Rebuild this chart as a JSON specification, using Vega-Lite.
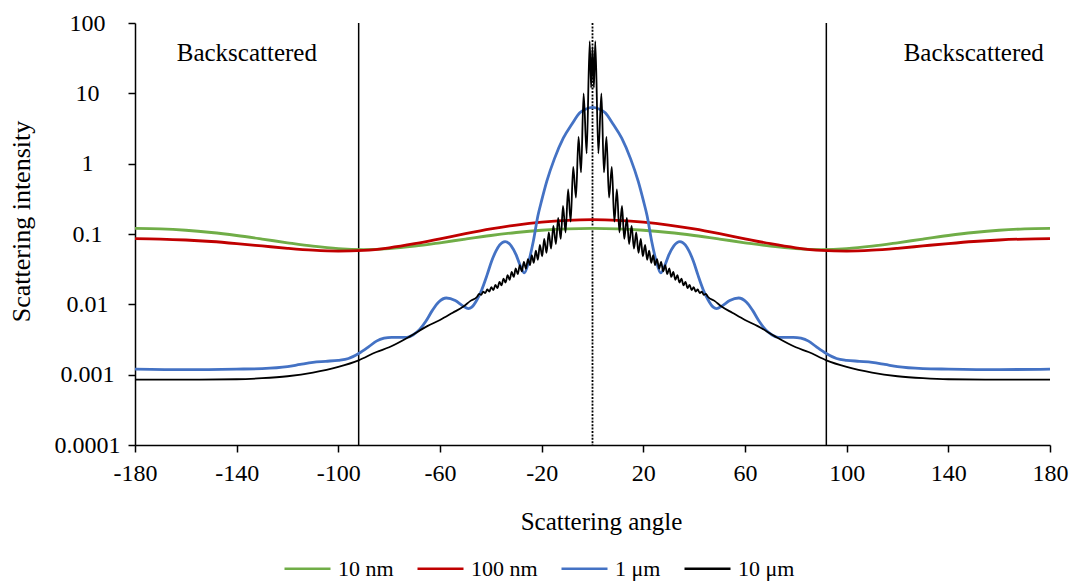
{
  "$schema": "https://vega.github.io/schema/vega-lite/v6.json",
  "width": 915,
  "height": 422,
  "autosize": {"type": "none"},
  "padding": {"left": 135, "top": 23, "right": 26, "bottom": 136},
  "background": "white",
  "config": {"view": {"stroke": null}, "font": "Liberation Serif"},
  "datasets": {
    "curves": [
      {"angle": -180, "intensity": 0.12, "series": "10 nm"},
      {"angle": -170, "intensity": 0.1182, "series": "10 nm"},
      {"angle": -160, "intensity": 0.113, "series": "10 nm"},
      {"angle": -150, "intensity": 0.105, "series": "10 nm"},
      {"angle": -140, "intensity": 0.0952, "series": "10 nm"},
      {"angle": -130, "intensity": 0.0848, "series": "10 nm"},
      {"angle": -120, "intensity": 0.075, "series": "10 nm"},
      {"angle": -110, "intensity": 0.067, "series": "10 nm"},
      {"angle": -100, "intensity": 0.0618, "series": "10 nm"},
      {"angle": -90, "intensity": 0.06, "series": "10 nm"},
      {"angle": -80, "intensity": 0.0618, "series": "10 nm"},
      {"angle": -70, "intensity": 0.067, "series": "10 nm"},
      {"angle": -60, "intensity": 0.075, "series": "10 nm"},
      {"angle": -50, "intensity": 0.0848, "series": "10 nm"},
      {"angle": -40, "intensity": 0.0952, "series": "10 nm"},
      {"angle": -30, "intensity": 0.105, "series": "10 nm"},
      {"angle": -20, "intensity": 0.113, "series": "10 nm"},
      {"angle": -10, "intensity": 0.1182, "series": "10 nm"},
      {"angle": 0, "intensity": 0.12, "series": "10 nm"},
      {"angle": 10, "intensity": 0.1182, "series": "10 nm"},
      {"angle": 20, "intensity": 0.113, "series": "10 nm"},
      {"angle": 30, "intensity": 0.105, "series": "10 nm"},
      {"angle": 40, "intensity": 0.0952, "series": "10 nm"},
      {"angle": 50, "intensity": 0.0848, "series": "10 nm"},
      {"angle": 60, "intensity": 0.075, "series": "10 nm"},
      {"angle": 70, "intensity": 0.067, "series": "10 nm"},
      {"angle": 80, "intensity": 0.0618, "series": "10 nm"},
      {"angle": 90, "intensity": 0.06, "series": "10 nm"},
      {"angle": 100, "intensity": 0.0618, "series": "10 nm"},
      {"angle": 110, "intensity": 0.067, "series": "10 nm"},
      {"angle": 120, "intensity": 0.075, "series": "10 nm"},
      {"angle": 130, "intensity": 0.0848, "series": "10 nm"},
      {"angle": 140, "intensity": 0.0952, "series": "10 nm"},
      {"angle": 150, "intensity": 0.105, "series": "10 nm"},
      {"angle": 160, "intensity": 0.113, "series": "10 nm"},
      {"angle": 170, "intensity": 0.1182, "series": "10 nm"},
      {"angle": 180, "intensity": 0.12, "series": "10 nm"},

      {"angle": -180, "intensity": 0.0857, "series": "100 nm"},
      {"angle": -170, "intensity": 0.0848, "series": "100 nm"},
      {"angle": -160, "intensity": 0.0822, "series": "100 nm"},
      {"angle": -150, "intensity": 0.0782, "series": "100 nm"},
      {"angle": -140, "intensity": 0.0731, "series": "100 nm"},
      {"angle": -130, "intensity": 0.0677, "series": "100 nm"},
      {"angle": -120, "intensity": 0.0626, "series": "100 nm"},
      {"angle": -110, "intensity": 0.0588, "series": "100 nm"},
      {"angle": -100, "intensity": 0.0571, "series": "100 nm"},
      {"angle": -90, "intensity": 0.0585, "series": "100 nm"},
      {"angle": -80, "intensity": 0.0637, "series": "100 nm"},
      {"angle": -70, "intensity": 0.0727, "series": "100 nm"},
      {"angle": -60, "intensity": 0.0855, "series": "100 nm"},
      {"angle": -50, "intensity": 0.1011, "series": "100 nm"},
      {"angle": -40, "intensity": 0.118, "series": "100 nm"},
      {"angle": -30, "intensity": 0.1342, "series": "100 nm"},
      {"angle": -20, "intensity": 0.1477, "series": "100 nm"},
      {"angle": -10, "intensity": 0.1567, "series": "100 nm"},
      {"angle": 0, "intensity": 0.16, "series": "100 nm"},
      {"angle": 10, "intensity": 0.1567, "series": "100 nm"},
      {"angle": 20, "intensity": 0.1477, "series": "100 nm"},
      {"angle": 30, "intensity": 0.1342, "series": "100 nm"},
      {"angle": 40, "intensity": 0.118, "series": "100 nm"},
      {"angle": 50, "intensity": 0.1011, "series": "100 nm"},
      {"angle": 60, "intensity": 0.0855, "series": "100 nm"},
      {"angle": 70, "intensity": 0.0727, "series": "100 nm"},
      {"angle": 80, "intensity": 0.0637, "series": "100 nm"},
      {"angle": 90, "intensity": 0.0585, "series": "100 nm"},
      {"angle": 100, "intensity": 0.0571, "series": "100 nm"},
      {"angle": 110, "intensity": 0.0588, "series": "100 nm"},
      {"angle": 120, "intensity": 0.0626, "series": "100 nm"},
      {"angle": 130, "intensity": 0.0677, "series": "100 nm"},
      {"angle": 140, "intensity": 0.0731, "series": "100 nm"},
      {"angle": 150, "intensity": 0.0782, "series": "100 nm"},
      {"angle": 160, "intensity": 0.0822, "series": "100 nm"},
      {"angle": 170, "intensity": 0.0848, "series": "100 nm"},
      {"angle": 180, "intensity": 0.0857, "series": "100 nm"},

      {"angle": -180, "intensity": 0.0012, "series": "1 μm"},
      {"angle": -160, "intensity": 0.00118, "series": "1 μm"},
      {"angle": -140, "intensity": 0.0012, "series": "1 μm"},
      {"angle": -130, "intensity": 0.00122, "series": "1 μm"},
      {"angle": -120, "intensity": 0.0013, "series": "1 μm"},
      {"angle": -115, "intensity": 0.0014, "series": "1 μm"},
      {"angle": -110, "intensity": 0.0015, "series": "1 μm"},
      {"angle": -105, "intensity": 0.00155, "series": "1 μm"},
      {"angle": -100, "intensity": 0.0016, "series": "1 μm"},
      {"angle": -96, "intensity": 0.0017, "series": "1 μm"},
      {"angle": -92, "intensity": 0.002, "series": "1 μm"},
      {"angle": -88, "intensity": 0.0025, "series": "1 μm"},
      {"angle": -85, "intensity": 0.003, "series": "1 μm"},
      {"angle": -82, "intensity": 0.0033, "series": "1 μm"},
      {"angle": -79, "intensity": 0.0034, "series": "1 μm"},
      {"angle": -76, "intensity": 0.0034, "series": "1 μm"},
      {"angle": -73, "intensity": 0.0034, "series": "1 μm"},
      {"angle": -70.5, "intensity": 0.0037, "series": "1 μm"},
      {"angle": -68, "intensity": 0.0044, "series": "1 μm"},
      {"angle": -65.5, "intensity": 0.0058, "series": "1 μm"},
      {"angle": -63, "intensity": 0.0082, "series": "1 μm"},
      {"angle": -60.5, "intensity": 0.0108, "series": "1 μm"},
      {"angle": -57.5, "intensity": 0.0123, "series": "1 μm"},
      {"angle": -54, "intensity": 0.0113, "series": "1 μm"},
      {"angle": -51, "intensity": 0.0095, "series": "1 μm"},
      {"angle": -48.8, "intensity": 0.0087, "series": "1 μm"},
      {"angle": -47.5, "intensity": 0.0091, "series": "1 μm"},
      {"angle": -45.5, "intensity": 0.0115, "series": "1 μm"},
      {"angle": -43.6, "intensity": 0.016, "series": "1 μm"},
      {"angle": -41.5, "intensity": 0.026, "series": "1 μm"},
      {"angle": -39.7, "intensity": 0.041, "series": "1 μm"},
      {"angle": -38, "intensity": 0.057, "series": "1 μm"},
      {"angle": -36.5, "intensity": 0.07, "series": "1 μm"},
      {"angle": -34.4, "intensity": 0.078, "series": "1 μm"},
      {"angle": -32, "intensity": 0.068, "series": "1 μm"},
      {"angle": -30, "intensity": 0.05, "series": "1 μm"},
      {"angle": -28.5, "intensity": 0.036, "series": "1 μm"},
      {"angle": -26.8, "intensity": 0.028, "series": "1 μm"},
      {"angle": -25, "intensity": 0.042, "series": "1 μm"},
      {"angle": -23.3, "intensity": 0.078, "series": "1 μm"},
      {"angle": -21.5, "intensity": 0.18, "series": "1 μm"},
      {"angle": -20, "intensity": 0.3, "series": "1 μm"},
      {"angle": -18, "intensity": 0.56, "series": "1 μm"},
      {"angle": -15, "intensity": 1.17, "series": "1 μm"},
      {"angle": -11.5, "intensity": 2.3, "series": "1 μm"},
      {"angle": -8, "intensity": 3.7, "series": "1 μm"},
      {"angle": -5, "intensity": 5.3, "series": "1 μm"},
      {"angle": -2.5, "intensity": 6.0, "series": "1 μm"},
      {"angle": 0, "intensity": 6.3, "series": "1 μm"},
      {"angle": 2.5, "intensity": 6.0, "series": "1 μm"},
      {"angle": 5, "intensity": 5.3, "series": "1 μm"},
      {"angle": 8, "intensity": 3.7, "series": "1 μm"},
      {"angle": 11.5, "intensity": 2.3, "series": "1 μm"},
      {"angle": 15, "intensity": 1.17, "series": "1 μm"},
      {"angle": 18, "intensity": 0.56, "series": "1 μm"},
      {"angle": 20, "intensity": 0.3, "series": "1 μm"},
      {"angle": 21.5, "intensity": 0.18, "series": "1 μm"},
      {"angle": 23.3, "intensity": 0.078, "series": "1 μm"},
      {"angle": 25, "intensity": 0.042, "series": "1 μm"},
      {"angle": 26.8, "intensity": 0.028, "series": "1 μm"},
      {"angle": 28.5, "intensity": 0.036, "series": "1 μm"},
      {"angle": 30, "intensity": 0.05, "series": "1 μm"},
      {"angle": 32, "intensity": 0.068, "series": "1 μm"},
      {"angle": 34.4, "intensity": 0.078, "series": "1 μm"},
      {"angle": 36.5, "intensity": 0.07, "series": "1 μm"},
      {"angle": 38, "intensity": 0.057, "series": "1 μm"},
      {"angle": 39.7, "intensity": 0.041, "series": "1 μm"},
      {"angle": 41.5, "intensity": 0.026, "series": "1 μm"},
      {"angle": 43.6, "intensity": 0.016, "series": "1 μm"},
      {"angle": 45.5, "intensity": 0.0115, "series": "1 μm"},
      {"angle": 47.5, "intensity": 0.0091, "series": "1 μm"},
      {"angle": 48.8, "intensity": 0.0087, "series": "1 μm"},
      {"angle": 51, "intensity": 0.0095, "series": "1 μm"},
      {"angle": 54, "intensity": 0.0113, "series": "1 μm"},
      {"angle": 57.5, "intensity": 0.0123, "series": "1 μm"},
      {"angle": 60.5, "intensity": 0.0108, "series": "1 μm"},
      {"angle": 63, "intensity": 0.0082, "series": "1 μm"},
      {"angle": 65.5, "intensity": 0.0058, "series": "1 μm"},
      {"angle": 68, "intensity": 0.0044, "series": "1 μm"},
      {"angle": 70.5, "intensity": 0.0037, "series": "1 μm"},
      {"angle": 73, "intensity": 0.0034, "series": "1 μm"},
      {"angle": 76, "intensity": 0.0034, "series": "1 μm"},
      {"angle": 79, "intensity": 0.0034, "series": "1 μm"},
      {"angle": 82, "intensity": 0.0033, "series": "1 μm"},
      {"angle": 85, "intensity": 0.003, "series": "1 μm"},
      {"angle": 88, "intensity": 0.0025, "series": "1 μm"},
      {"angle": 92, "intensity": 0.002, "series": "1 μm"},
      {"angle": 96, "intensity": 0.0017, "series": "1 μm"},
      {"angle": 100, "intensity": 0.0016, "series": "1 μm"},
      {"angle": 105, "intensity": 0.00155, "series": "1 μm"},
      {"angle": 110, "intensity": 0.0015, "series": "1 μm"},
      {"angle": 115, "intensity": 0.0014, "series": "1 μm"},
      {"angle": 120, "intensity": 0.0013, "series": "1 μm"},
      {"angle": 130, "intensity": 0.00122, "series": "1 μm"},
      {"angle": 140, "intensity": 0.0012, "series": "1 μm"},
      {"angle": 160, "intensity": 0.00118, "series": "1 μm"},
      {"angle": 180, "intensity": 0.0012, "series": "1 μm"},

      {"angle": -180, "intensity": 0.00085, "series": "10 μm"},
      {"angle": -160, "intensity": 0.00085, "series": "10 μm"},
      {"angle": -140, "intensity": 0.00086, "series": "10 μm"},
      {"angle": -130, "intensity": 0.00089, "series": "10 μm"},
      {"angle": -120, "intensity": 0.00095, "series": "10 μm"},
      {"angle": -110, "intensity": 0.00107, "series": "10 μm"},
      {"angle": -100, "intensity": 0.00129, "series": "10 μm"},
      {"angle": -92, "intensity": 0.0016, "series": "10 μm"},
      {"angle": -85, "intensity": 0.0021, "series": "10 μm"},
      {"angle": -80, "intensity": 0.00245, "series": "10 μm"},
      {"angle": -71.8, "intensity": 0.0035, "series": "10 μm"},
      {"angle": -65, "intensity": 0.0049, "series": "10 μm"},
      {"angle": -60, "intensity": 0.006, "series": "10 μm"},
      {"angle": -55, "intensity": 0.0076, "series": "10 μm"},
      {"angle": -50.8, "intensity": 0.0093, "series": "10 μm"},
      {"angle": -48, "intensity": 0.0112, "series": "10 μm"},
      {"angle": -45.4, "intensity": 0.0128, "series": "10 μm"},
      {"angle": -44.6, "intensity": 0.0141, "series": "10 μm"},
      {"angle": -43.8, "intensity": 0.0136, "series": "10 μm"},
      {"angle": -43, "intensity": 0.0152, "series": "10 μm"},
      {"angle": -42.2, "intensity": 0.0144, "series": "10 μm"},
      {"angle": -41.4, "intensity": 0.0163, "series": "10 μm"},
      {"angle": -40.6, "intensity": 0.0152, "series": "10 μm"},
      {"angle": -39.8, "intensity": 0.0175, "series": "10 μm"},
      {"angle": -39, "intensity": 0.016, "series": "10 μm"},
      {"angle": -38.2, "intensity": 0.0189, "series": "10 μm"},
      {"angle": -37.4, "intensity": 0.017, "series": "10 μm"},
      {"angle": -36.6, "intensity": 0.0208, "series": "10 μm"},
      {"angle": -35.8, "intensity": 0.0186, "series": "10 μm"},
      {"angle": -35, "intensity": 0.0232, "series": "10 μm"},
      {"angle": -34.2, "intensity": 0.0204, "series": "10 μm"},
      {"angle": -33.4, "intensity": 0.0259, "series": "10 μm"},
      {"angle": -32.6, "intensity": 0.0223, "series": "10 μm"},
      {"angle": -31.8, "intensity": 0.0289, "series": "10 μm"},
      {"angle": -31, "intensity": 0.0245, "series": "10 μm"},
      {"angle": -30.2, "intensity": 0.0323, "series": "10 μm"},
      {"angle": -29.4, "intensity": 0.0268, "series": "10 μm"},
      {"angle": -28.6, "intensity": 0.036, "series": "10 μm"},
      {"angle": -27.8, "intensity": 0.0294, "series": "10 μm"},
      {"angle": -27, "intensity": 0.0402, "series": "10 μm"},
      {"angle": -26.2, "intensity": 0.0321, "series": "10 μm"},
      {"angle": -25.4, "intensity": 0.044, "series": "10 μm"},
      {"angle": -24.6, "intensity": 0.036, "series": "10 μm"},
      {"angle": -23.9, "intensity": 0.05, "series": "10 μm"},
      {"angle": -23.1, "intensity": 0.039, "series": "10 μm"},
      {"angle": -22.3, "intensity": 0.058, "series": "10 μm"},
      {"angle": -21.5, "intensity": 0.043, "series": "10 μm"},
      {"angle": -20.7, "intensity": 0.07, "series": "10 μm"},
      {"angle": -19.8, "intensity": 0.048, "series": "10 μm"},
      {"angle": -19, "intensity": 0.085, "series": "10 μm"},
      {"angle": -18.1, "intensity": 0.054, "series": "10 μm"},
      {"angle": -17.2, "intensity": 0.105, "series": "10 μm"},
      {"angle": -16.3, "intensity": 0.062, "series": "10 μm"},
      {"angle": -15.4, "intensity": 0.13, "series": "10 μm"},
      {"angle": -14.4, "intensity": 0.072, "series": "10 μm"},
      {"angle": -13.5, "intensity": 0.17, "series": "10 μm"},
      {"angle": -12.5, "intensity": 0.085, "series": "10 μm"},
      {"angle": -11.6, "intensity": 0.25, "series": "10 μm"},
      {"angle": -10.6, "intensity": 0.105, "series": "10 μm"},
      {"angle": -9.6, "intensity": 0.43, "series": "10 μm"},
      {"angle": -8.6, "intensity": 0.15, "series": "10 μm"},
      {"angle": -7.6, "intensity": 0.9, "series": "10 μm"},
      {"angle": -6.5, "intensity": 0.33, "series": "10 μm"},
      {"angle": -5.5, "intensity": 2.4, "series": "10 μm"},
      {"angle": -4.5, "intensity": 0.75, "series": "10 μm"},
      {"angle": -3.5, "intensity": 10, "series": "10 μm"},
      {"angle": -2.3, "intensity": 1.4, "series": "10 μm"},
      {"angle": -1.1, "intensity": 55, "series": "10 μm"},
      {"angle": -0.55, "intensity": 12, "series": "10 μm"},
      {"angle": 0, "intensity": 45, "series": "10 μm"},
      {"angle": 0.55, "intensity": 12, "series": "10 μm"},
      {"angle": 1.1, "intensity": 55, "series": "10 μm"},
      {"angle": 2.3, "intensity": 1.4, "series": "10 μm"},
      {"angle": 3.5, "intensity": 10, "series": "10 μm"},
      {"angle": 4.5, "intensity": 0.75, "series": "10 μm"},
      {"angle": 5.5, "intensity": 2.4, "series": "10 μm"},
      {"angle": 6.5, "intensity": 0.33, "series": "10 μm"},
      {"angle": 7.6, "intensity": 0.9, "series": "10 μm"},
      {"angle": 8.6, "intensity": 0.15, "series": "10 μm"},
      {"angle": 9.6, "intensity": 0.43, "series": "10 μm"},
      {"angle": 10.6, "intensity": 0.105, "series": "10 μm"},
      {"angle": 11.6, "intensity": 0.25, "series": "10 μm"},
      {"angle": 12.5, "intensity": 0.085, "series": "10 μm"},
      {"angle": 13.5, "intensity": 0.17, "series": "10 μm"},
      {"angle": 14.4, "intensity": 0.072, "series": "10 μm"},
      {"angle": 15.4, "intensity": 0.13, "series": "10 μm"},
      {"angle": 16.3, "intensity": 0.062, "series": "10 μm"},
      {"angle": 17.2, "intensity": 0.105, "series": "10 μm"},
      {"angle": 18.1, "intensity": 0.054, "series": "10 μm"},
      {"angle": 19, "intensity": 0.085, "series": "10 μm"},
      {"angle": 19.8, "intensity": 0.048, "series": "10 μm"},
      {"angle": 20.7, "intensity": 0.07, "series": "10 μm"},
      {"angle": 21.5, "intensity": 0.043, "series": "10 μm"},
      {"angle": 22.3, "intensity": 0.058, "series": "10 μm"},
      {"angle": 23.1, "intensity": 0.039, "series": "10 μm"},
      {"angle": 23.9, "intensity": 0.05, "series": "10 μm"},
      {"angle": 24.6, "intensity": 0.036, "series": "10 μm"},
      {"angle": 25.4, "intensity": 0.044, "series": "10 μm"},
      {"angle": 26.2, "intensity": 0.0321, "series": "10 μm"},
      {"angle": 27, "intensity": 0.0402, "series": "10 μm"},
      {"angle": 27.8, "intensity": 0.0294, "series": "10 μm"},
      {"angle": 28.6, "intensity": 0.036, "series": "10 μm"},
      {"angle": 29.4, "intensity": 0.0268, "series": "10 μm"},
      {"angle": 30.2, "intensity": 0.0323, "series": "10 μm"},
      {"angle": 31, "intensity": 0.0245, "series": "10 μm"},
      {"angle": 31.8, "intensity": 0.0289, "series": "10 μm"},
      {"angle": 32.6, "intensity": 0.0223, "series": "10 μm"},
      {"angle": 33.4, "intensity": 0.0259, "series": "10 μm"},
      {"angle": 34.2, "intensity": 0.0204, "series": "10 μm"},
      {"angle": 35, "intensity": 0.0232, "series": "10 μm"},
      {"angle": 35.8, "intensity": 0.0186, "series": "10 μm"},
      {"angle": 36.6, "intensity": 0.0208, "series": "10 μm"},
      {"angle": 37.4, "intensity": 0.017, "series": "10 μm"},
      {"angle": 38.2, "intensity": 0.0189, "series": "10 μm"},
      {"angle": 39, "intensity": 0.016, "series": "10 μm"},
      {"angle": 39.8, "intensity": 0.0175, "series": "10 μm"},
      {"angle": 40.6, "intensity": 0.0152, "series": "10 μm"},
      {"angle": 41.4, "intensity": 0.0163, "series": "10 μm"},
      {"angle": 42.2, "intensity": 0.0144, "series": "10 μm"},
      {"angle": 43, "intensity": 0.0152, "series": "10 μm"},
      {"angle": 43.8, "intensity": 0.0136, "series": "10 μm"},
      {"angle": 44.6, "intensity": 0.0141, "series": "10 μm"},
      {"angle": 45.4, "intensity": 0.0128, "series": "10 μm"},
      {"angle": 48, "intensity": 0.0112, "series": "10 μm"},
      {"angle": 50.8, "intensity": 0.0093, "series": "10 μm"},
      {"angle": 55, "intensity": 0.0076, "series": "10 μm"},
      {"angle": 60, "intensity": 0.006, "series": "10 μm"},
      {"angle": 65, "intensity": 0.0049, "series": "10 μm"},
      {"angle": 71.8, "intensity": 0.0035, "series": "10 μm"},
      {"angle": 80, "intensity": 0.00245, "series": "10 μm"},
      {"angle": 85, "intensity": 0.0021, "series": "10 μm"},
      {"angle": 92, "intensity": 0.0016, "series": "10 μm"},
      {"angle": 100, "intensity": 0.00129, "series": "10 μm"},
      {"angle": 110, "intensity": 0.00107, "series": "10 μm"},
      {"angle": 120, "intensity": 0.00095, "series": "10 μm"},
      {"angle": 130, "intensity": 0.00089, "series": "10 μm"},
      {"angle": 140, "intensity": 0.00086, "series": "10 μm"},
      {"angle": 160, "intensity": 0.00085, "series": "10 μm"},
      {"angle": 180, "intensity": 0.00085, "series": "10 μm"}
    ],
    "bounds": [{"angle": -92}, {"angle": 92}],
    "center": [{"angle": 0}],
    "notes": [
      {"angle": -136, "intensity": 29, "text": "Backscattered"},
      {"angle": 150, "intensity": 29, "text": "Backscattered"}
    ]
  },
  "layer": [
    {
      "data": {"name": "bounds"},
      "mark": {"type": "rule", "color": "black", "strokeWidth": 1.5},
      "encoding": {
        "x": {"field": "angle", "type": "quantitative", "title": "Scattering angle"}
      }
    },
    {
      "data": {"name": "center"},
      "mark": {"type": "rule", "color": "black", "strokeWidth": 1.8, "strokeDash": [2, 1.4]},
      "encoding": {
        "x": {"field": "angle", "type": "quantitative", "title": "Scattering angle"}
      }
    },
    {
      "data": {"name": "curves"},
      "mark": {"type": "line", "interpolate": "monotone", "clip": true},
      "encoding": {
        "x": {
          "field": "angle", "type": "quantitative", "title": "Scattering angle",
          "scale": {"domain": [-180, 180], "nice": false, "zero": false},
          "axis": {
            "values": [-180, -140, -100, -60, -20, 20, 60, 100, 140, 180],
            "labelExpr": "'' + datum.value",
            "grid": false, "domainColor": "black", "domainWidth": 1.5,
            "tickColor": "black", "tickWidth": 1.5, "tickSize": 7,
            "labelFont": "Liberation Serif", "labelFontSize": 24, "labelColor": "black",
            "labelPadding": 9, "labelFlush": false, "labelOverlap": false,
            "titleFont": "Liberation Serif", "titleFontSize": 25, "titleFontWeight": "normal",
            "titleColor": "black", "titleX": 466, "titleY": 84, "titleAlign": "center",
            "titleBaseline": "alphabetic"
          }
        },
        "y": {
          "field": "intensity", "type": "quantitative", "title": "Scattering intensity",
          "scale": {"type": "log", "domain": [0.0001, 100], "nice": false},
          "axis": {
            "values": [0.0001, 0.001, 0.01, 0.1, 1, 10, 100],
            "labelExpr": "'' + datum.value",
            "grid": false, "domainColor": "black", "domainWidth": 1.5,
            "tickColor": "black", "tickWidth": 1.5, "tickSize": 7,
            "labelFont": "Liberation Serif", "labelFontSize": 24, "labelColor": "black",
            "labelAlign": "center", "labelBaseline": "middle", "labelPadding": 41,
            "labelFlush": false, "labelOverlap": false,
            "titleFont": "Liberation Serif", "titleFontSize": 26, "titleFontWeight": "normal",
            "titleColor": "black", "titleAngle": 270, "titleX": -106, "titleY": 198,
            "titleAlign": "center", "titleBaseline": "alphabetic"
          }
        },
        "color": {
          "field": "series", "type": "nominal",
          "scale": {"domain": ["10 nm", "100 nm", "1 μm", "10 μm"], "range": ["#70AD47", "#C00000", "#4472C4", "#000000"]},
          "legend": {
            "title": null, "orient": "none", "direction": "horizontal",
            "legendX": 148, "legendY": 521,
            "symbolType": "stroke", "symbolSize": 2116, "symbolStrokeWidth": 2.5,
            "labelFont": "Liberation Serif", "labelFontSize": 22, "labelColor": "black",
            "labelOffset": 6, "columnPadding": 18
          }
        },
        "strokeWidth": {
          "condition": {"test": "datum.series === '10 μm'", "value": 1.8},
          "value": 2.8
        }
      }
    },
    {
      "data": {"name": "notes"},
      "mark": {"type": "text", "font": "Liberation Serif", "fontSize": 25, "color": "black", "align": "center", "baseline": "alphabetic"},
      "encoding": {
        "x": {"field": "angle", "type": "quantitative", "title": "Scattering angle"},
        "y": {"field": "intensity", "type": "quantitative", "title": "Scattering intensity"},
        "text": {"field": "text", "type": "nominal"}
      }
    }
  ]
}
